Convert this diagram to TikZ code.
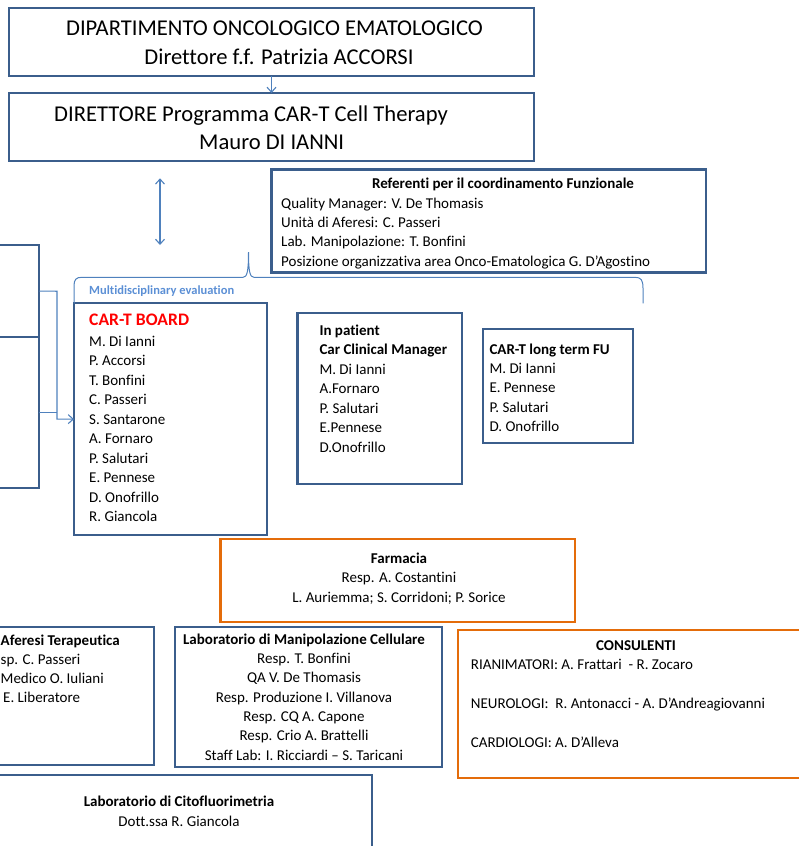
\documentclass[tikz,border=0pt]{standalone}
\usepackage{fontspec}
\setmainfont{Carlito}[Ligatures={TeX,NoCommon}]
\usetikzlibrary{arrows.meta}
\definecolor{boxblue}{HTML}{3B5E8C}
\definecolor{boxorange}{HTML}{E46C0A}
\definecolor{lineblue}{HTML}{4F81BD}
\definecolor{bracetext}{HTML}{5B8FD5}
\tikzset{
  bx/.style={draw=boxblue, line width=2.2pt, inner sep=0pt, outer sep=0pt, anchor=north west},
  obx/.style={draw=boxorange, line width=2.2pt, inner sep=0pt, outer sep=0pt, anchor=north west},
  txt/.style={inner sep=0pt, anchor=base west},
  txc/.style={inner sep=0pt, anchor=base},
  txb/.style={txt, font=\fontsize{15}{17}\selectfont\bfseries},
  txbc/.style={txc, font=\fontsize{15}{17}\selectfont\bfseries},
  bigtxt/.style={txc, font=\fontsize{22.6}{26}\selectfont},
  conn/.style={draw=lineblue, line width=1.1pt},
  barb/.tip={Straight Barb[length=5pt,width=9pt]}
}
\begin{document}
\begin{tikzpicture}[x=1pt,y=-1pt, font=\fontsize{15}{17}\selectfont]
\useasboundingbox (0,0) rectangle (798,846);

% boxes
\node[bx, minimum width=525pt, minimum height=68pt] (dept) at (9,8) {};
\node[bx, minimum width=525pt, minimum height=68pt] (dir) at (9,93) {};
\node[bx, minimum width=434.5pt, minimum height=103pt] (refs) at (271.5,169.5) {};
\node[bx, minimum width=99.3pt, minimum height=92.3pt] (lb1) at (-60,245) {};
\node[bx, minimum width=99.3pt, minimum height=151pt] (lb2) at (-60,337.3) {};
\node[bx, minimum width=193.3pt, minimum height=231.7pt] (board) at (74,303.3) {};
\node[bx, minimum width=164.5pt, minimum height=171.3pt] (inpat) at (297.5,312.7) {};
\node[bx, minimum width=150.6pt, minimum height=113.4pt] (fu) at (482.7,329.3) {};
\node[obx, minimum width=354.5pt, minimum height=82.4pt] (farm) at (220.5,539.3) {};
\node[bx, minimum width=214pt, minimum height=137.7pt] (afer) at (-60,627.3) {};
\node[bx, minimum width=266.7pt, minimum height=140.6pt] (labm) at (175,626.7) {};
\node[obx, minimum width=400pt, minimum height=148.3pt] (cons) at (458.3,630) {};
\node[bx, minimum width=431.7pt, minimum height=120pt] (cito) at (-60,775) {};

% connectors
\draw[conn, -{barb}] (dept.south) -- (dir.north);
\coordinate (da1) at (160,178.3);
\coordinate (da2) at (160,245);
\draw[conn, {barb}-{barb}] (da1) -- (da2);
\coordinate (jtop) at (57,291.2);
\draw[conn, -{barb}] (lb1.east) -- (jtop) |- (board.west);
\draw[conn] (lb2.east) -- (lb2.east -| jtop);

% brace
\coordinate (braceR) at (643,303.3);
\draw[draw=lineblue, line width=1pt] (board.north west) -- (74,286)
  .. controls (74,279.5) and (76,277.3) .. (82,277.3) -- (243,277.3)
  .. controls (247,277.3) and (248.5,272) .. (248.5,252)
  .. controls (248.5,272) and (250,277.3) .. (254,277.3) -- (635,277.3)
  .. controls (641,277.3) and (643,280) .. (643,288) -- (braceR);
\node[txt, font=\fontsize{12.5}{14}\selectfont\bfseries, text=bracetext] (mde) at (89,294) {Multidisciplinary evaluation};

% top texts
\node[bigtxt] (deptl1) at (274.5,35.5) {DIPARTIMENTO ONCOLOGICO EMATOLOGICO};
\node[bigtxt] (deptl2) at (279,64.5) {Direttore f.f. Patrizia ACCORSI};
\node[bigtxt] (dirl1) at (251,121) {DIRETTORE Programma CAR-T Cell Therapy};
\node[bigtxt] (dirl2) at (271.7,149.5) {Mauro DI IANNI};

% referenti
\node[txbc] (refst) at (503,188.3) {Referenti per il coordinamento Funzionale};
\node[txt] (refs1) at (281,208.3) {Quality Manager: V. De Thomasis};
\node[txt] (refs2) at (281,227.5) {Unità di Aferesi: C. Passeri};
\node[txt] (refs3) at (281,246.8) {Lab. Manipolazione: T. Bonfini};
\node[txt] (refs4) at (281,266) {Posizione organizzativa area Onco-Ematologica G. D’Agostino};

% CAR-T board
\node[txt, font=\fontsize{17.6}{20}\selectfont\bfseries, text=red] (boardt) at (89,325) {CAR-T BOARD};
\foreach \s [count=\i] in {M. Di Ianni, P. Accorsi, T. Bonfini, C. Passeri, S. Santarone, A. Fornaro, P. Salutari, E. Pennese, D. Onofrillo, R. Giancola}
  \node[txt] (boardn\i) at (89,{346+(\i-1)*19.5}) {\s};

% in patient
\node[txb] (inpt1) at (319.3,335) {In patient};
\node[txb] (inpt2) at (319.3,354.5) {Car Clinical Manager};
\foreach \s [count=\i] in {M. Di Ianni, A.Fornaro, P. Salutari, E.Pennese, D.Onofrillo}
  \node[txt] (inpn\i) at (319.3,{374+(\i-1)*19.5}) {\s};

% long term FU
\node[txb] (fut) at (489.3,354) {CAR-T long term FU};
\foreach \s [count=\i] in {M. Di Ianni, E. Pennese, P. Salutari, D. Onofrillo}
  \node[txt] (fun\i) at (489.3,{373.3+(\i-1)*19.35}) {\s};

% farmacia
\node[txbc] (farmt) at (399,563.5) {Farmacia};
\node[txc] (farm1) at (399,582.7) {Resp. A. Costantini};
\node[txc] (farm2) at (399,602) {L. Auriemma; S. Corridoni; P. Sorice};

% aferesi
\node[txb] (afert) at (0.5,645) {Aferesi Terapeutica};
\node[txt] (afer1) at (0.5,664) {sp. C. Passeri};
\node[txt] (afer2) at (0.5,683.3) {Medico O. Iuliani};
\node[txt] (afer3) at (3,702.7) {E. Liberatore};

% lab manipolazione
\node[txbc] (labmt) at (304,644) {Laboratorio di Manipolazione Cellulare};
\foreach \s [count=\i] in {Resp. T. Bonfini, QA V. De Thomasis, Resp. Produzione I. Villanova, Resp. CQ A. Capone, Resp. Crio A. Brattelli, Staff Lab: I. Ricciardi – S. Taricani}
  \node[txc] (labmn\i) at (304,{663.3+(\i-1)*19.35}) {\s};

% consulenti
\node[txbc] (const) at (636,650) {CONSULENTI};
\node[txt] (cons1) at (470.7,669.3) {RIANIMATORI: A. Frattari\ \ - R. Zocaro};
\node[txt] (cons2) at (470.7,708.3) {NEUROLOGI:\ \ R. Antonacci - A. D’Andreagiovanni};
\node[txt] (cons3) at (470.7,747.3) {CARDIOLOGI: A. D’Alleva};

% citofluorimetria
\node[txbc] (citot) at (179,806.7) {Laboratorio di Citofluorimetria};
\node[txc] (cito1) at (179,826.7) {Dott.ssa R. Giancola};
\end{tikzpicture}
\end{document}
